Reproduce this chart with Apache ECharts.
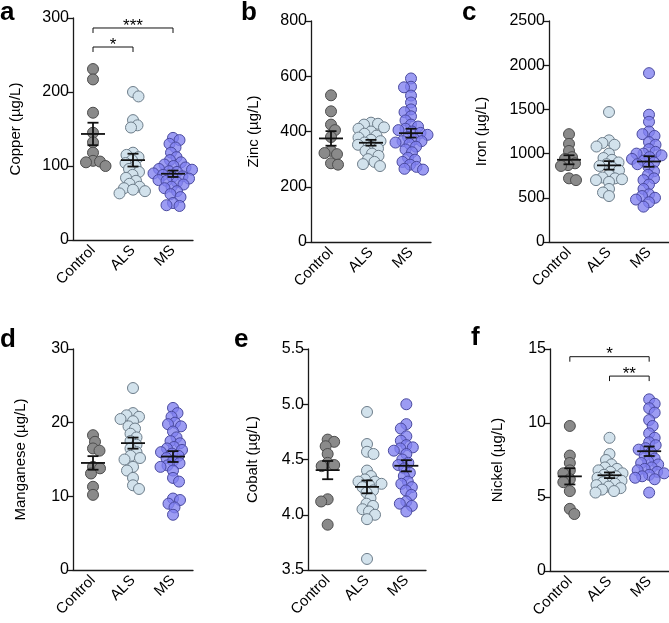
<!DOCTYPE html>
<html>
<head>
<meta charset="utf-8">
<script src="https://cdn.jsdelivr.net/npm/echarts@6/dist/echarts.min.js"></script>
<style>
  html, body { margin: 0; padding: 0; background: #fff; }
  #chart { width: 669px; height: 623px; }
</style>
</head>
<body>
<div id="chart"></div>
<script>
// groups on the x axis
const groups = ['Control', 'ALS', 'MS'];

// Copper (µg/L)
const cuControl = [231, 217, 172, 145, 132, 118, 107, 106, 105, 100];
const cuALS = [200, 194, 162, 155, 152, 118, 115, 112, 108, 104, 100, 96, 92, 88, 84, 80, 76, 72, 70, 68, 66, 63];
const cuMS = [138, 135, 130, 125, 118, 112, 108, 105, 102, 100, 98, 96, 95, 93, 92, 90, 88, 86, 85, 83, 81, 80, 78, 75, 72, 70, 66, 62, 58, 50, 47, 46];

// Zinc (µg/L)
const znControl = [531, 473, 425, 405, 380, 330, 322, 318, 285, 280];
const znALS = [432, 428, 425, 415, 410, 400, 392, 385, 378, 370, 365, 360, 352, 345, 338, 330, 320, 312, 300, 290, 282, 275];
const znMS = [592, 562, 560, 530, 505, 480, 470, 455, 440, 425, 418, 410, 405, 400, 395, 388, 380, 372, 365, 360, 365, 355, 345, 335, 325, 305, 298, 290, 280, 272, 265, 262];

// Iron (µg/L)
const feControl = [1220, 1110, 1030, 960, 940, 890, 870, 860, 720, 700];
const feALS = [1470, 1150, 1120, 1100, 1080, 1000, 950, 930, 900, 880, 860, 840, 810, 760, 730, 720, 710, 700, 680, 600, 560, 520];
const feMS = [1910, 1440, 1360, 1250, 1220, 1200, 1130, 1100, 1050, 1020, 1000, 1000, 980, 960, 940, 920, 900, 880, 850, 800, 760, 720, 700, 650, 600, 540, 520, 500, 480, 450, 400];

// Manganese (µg/L)
const mnControl = [18.3, 17.4, 16.5, 16.2, 14.0, 13.8, 13.1, 11.3, 10.2];
const mnALS = [24.7, 21.3, 21.0, 20.8, 20.5, 20.2, 19.5, 19.2, 18.5, 18.0, 17.5, 17.0, 16.5, 16.0, 15.5, 15.2, 15.0, 14.0, 13.5, 12.5, 11.5, 11.0];
const mnMS = [22.0, 21.3, 20.8, 20.0, 19.8, 19.5, 18.8, 18.0, 17.5, 17.2, 16.7, 16.5, 16.3, 16.0, 15.8, 15.5, 15.2, 14.8, 14.5, 14.2, 14.0, 13.5, 12.5, 12.0, 9.7, 9.5, 9.0, 8.5, 7.5];

// Cobalt (µg/L)
const coControl = [4.68, 4.66, 4.62, 4.55, 4.47, 4.45, 4.44, 4.14, 4.12, 3.91];
const coALS = [4.93, 4.64, 4.57, 4.55, 4.40, 4.35, 4.32, 4.30, 4.30, 4.28, 4.27, 4.25, 4.22, 4.20, 4.15, 4.10, 4.08, 4.05, 4.03, 4.00, 3.96, 3.60];
const coMS = [5.00, 4.82, 4.78, 4.71, 4.67, 4.63, 4.61, 4.60, 4.58, 4.55, 4.50, 4.47, 4.45, 4.42, 4.38, 4.35, 4.30, 4.28, 4.25, 4.22, 4.18, 4.12, 4.10, 4.08, 4.03];

// Nickel (µg/L)
const niControl = [9.8, 7.8, 7.3, 6.8, 6.6, 6.2, 6.0, 5.4, 4.2, 3.85];
const niALS = [9.0, 7.9, 7.5, 7.2, 7.0, 6.9, 6.8, 6.7, 6.6, 6.5, 6.4, 6.3, 6.2, 6.1, 6.0, 5.9, 5.8, 5.7, 5.6, 5.5, 5.4, 5.3];
const niMS = [11.6, 11.3, 11.0, 10.7, 10.2, 9.8, 9.3, 9.0, 8.7, 8.5, 8.3, 8.2, 8.0, 7.8, 7.6, 7.4, 7.3, 7.2, 7.0, 6.9, 6.8, 6.7, 6.6, 6.5, 6.4, 6.3, 6.2, 5.3];

// significance brackets: [from group, to group, y, label]
const sigCopper = [[0, 1, 260.8, '*'], [0, 2, 286.5, '***']];
const sigNickel = [[0, 2, 14.48, '*'], [1, 2, 13.17, '**']];

const FONT = '"Liberation Sans", Arial, Helvetica, sans-serif';
const fills = ['#8a8a8a', '#d2e2ec', 'rgba(128,128,240,0.78)'];
const borders = ['#4d4d4d', '#6d7d8a', '#4a4aa0'];

const panels = [
  { letter: 'a', name: 'Copper (µg/L)', sets: [cuControl, cuALS, cuMS], min: 0, max: 300, step: 100, sig: sigCopper,
    box: { left: 73, top: 18, width: 120, height: 222 }, gap: 50, lx: 0, ly: 0 },
  { letter: 'b', name: 'Zinc (µg/L)', sets: [znControl, znALS, znMS], min: 0, max: 800, step: 200,
    box: { left: 311, top: 21, width: 120, height: 221 }, gap: 50, lx: 241, ly: 0 },
  { letter: 'c', name: 'Iron (µg/L)', sets: [feControl, feALS, feMS], min: 0, max: 2500, step: 500,
    box: { left: 549, top: 21, width: 120, height: 221 }, gap: 60, lx: 462, ly: 0 },
  { letter: 'd', name: 'Manganese (µg/L)', sets: [mnControl, mnALS, mnMS], min: 0, max: 30, step: 10,
    box: { left: 73, top: 349, width: 120, height: 221 }, gap: 45, lx: 0, ly: 327 },
  { letter: 'e', name: 'Cobalt (µg/L)', sets: [coControl, coALS, coMS], min: 3.5, max: 5.5, step: 0.5, fixed: 1,
    box: { left: 308, top: 349, width: 118, height: 221 }, gap: 48, lx: 234, ly: 327 },
  { letter: 'f', name: 'Nickel (µg/L)', sets: [niControl, niALS, niMS], min: 0, max: 15, step: 5, sig: sigNickel,
    box: { left: 550, top: 349, width: 119, height: 222 }, gap: 45, lx: 471, ly: 325 }
];

function meanSem(a) {
  const m = a.reduce((s, v) => s + v, 0) / a.length;
  const sd = Math.sqrt(a.reduce((s, v) => s + (v - m) * (v - m), 0) / (a.length - 1));
  return [m, sd / Math.sqrt(a.length)];
}

// simple beeswarm: horizontal offsets in px so markers do not pile up
function swarm(vals, pxPerUnit, d) {
  const order = vals.map((v, i) => i).sort((a, b) => vals[b] - vals[a]);
  const placed = [];
  const off = new Array(vals.length);
  order.forEach((i, n) => {
    const y = vals[i] * pxPerUnit;
    let x = 0;
    search:
    for (let k = 0; k < 100; k += 0.5) {
      const cands = k === 0 ? [0] : (n % 2 ? [k, -k] : [-k, k]);
      for (const c of cands) {
        if (placed.every(p => (p.x - c) ** 2 + (p.y - y) ** 2 >= d * d)) { x = c; break search; }
      }
    }
    placed.push({ x: x, y: y });
    off[i] = x;
  });
  return off;
}

const grid = [], xAxis = [], yAxis = [], series = [], graphic = [];
const axisColor = '#1a1a1a';

panels.forEach((p, g) => {
  grid.push(Object.assign({}, p.box));
  const catW = p.box.width / 3;
  xAxis.push({
    type: 'category', gridIndex: g, data: groups, boundaryGap: true,
    axisLine: { lineStyle: { color: axisColor, width: 1.3 } },
    axisTick: { alignWithLabel: true, length: 6, lineStyle: { color: axisColor, width: 1.3 } },
    axisLabel: { rotate: 45, color: '#000', fontSize: 15, fontFamily: FONT, margin: 8, interval: 0 },
    splitLine: { show: false }
  });
  xAxis.push({ type: 'value', gridIndex: g, min: -0.5, max: 2.5, show: false });
  yAxis.push({
    type: 'value', gridIndex: g, min: p.min, max: p.max, interval: p.step,
    name: p.name, nameLocation: 'middle', nameGap: p.gap, nameRotate: 90,
    nameTextStyle: { color: '#000', fontSize: 15, fontFamily: FONT },
    axisLine: { show: true, onZero: false, lineStyle: { color: axisColor, width: 1.3 } },
    axisTick: { show: true, length: 6, lineStyle: { color: axisColor, width: 1.3 } },
    axisLabel: { color: '#000', fontSize: 16, fontFamily: FONT, margin: 4,
      formatter: v => p.fixed ? v.toFixed(p.fixed) : String(v) },
    splitLine: { show: false }
  });
  const pxPerUnit = p.box.height / (p.max - p.min);
  const stats = [];
  p.sets.forEach((vals, gi) => {
    const off = swarm(vals, pxPerUnit, 6.8);
    series.push({
      type: 'scatter', xAxisIndex: 2 * g + 1, yAxisIndex: g, symbolSize: 11, z: 2,
      itemStyle: { color: fills[gi], borderColor: borders[gi], borderWidth: 1, opacity: 1 },
      data: vals.map((v, i) => [gi + off[i] / catW, v]),
      silent: true
    });
    const ms = meanSem(vals);
    stats.push([gi, ms[0], ms[1]]);
  });
  series.push({
    type: 'custom', xAxisIndex: 2 * g + 1, yAxisIndex: g, z: 5, silent: true,
    data: stats,
    renderItem: (params, api) => {
      const x = api.value(0), m = api.value(1), s = api.value(2);
      const c = api.coord([x, m]), t = api.coord([x, m + s]), b = api.coord([x, m - s]);
      const st = { stroke: '#111', lineWidth: 1.8 };
      return { type: 'group', children: [
        { type: 'line', shape: { x1: c[0] - 12, y1: c[1], x2: c[0] + 12, y2: c[1] }, style: st },
        { type: 'line', shape: { x1: c[0], y1: t[1], x2: c[0], y2: b[1] }, style: st },
        { type: 'line', shape: { x1: c[0] - 5.5, y1: t[1], x2: c[0] + 5.5, y2: t[1] }, style: st },
        { type: 'line', shape: { x1: c[0] - 5.5, y1: b[1], x2: c[0] + 5.5, y2: b[1] }, style: st }
      ] };
    }
  });
  if (p.sig) {
    const sig = p.sig;
    series.push({
      type: 'custom', xAxisIndex: 2 * g + 1, yAxisIndex: g, z: 6, silent: true,
      data: sig.map(s => [s[0], s[1], s[2]]),
      renderItem: (params, api) => {
        const a = api.coord([api.value(0), api.value(2)]);
        const b = api.coord([api.value(1), api.value(2)]);
        const st = { stroke: '#111', lineWidth: 1 };
        return { type: 'group', children: [
          { type: 'polyline', shape: { points: [[a[0], a[1] + 5], [a[0], a[1]], [b[0], b[1]], [b[0], b[1] + 5]] }, style: Object.assign({ fill: null }, st) },
          { type: 'text', style: { text: sig[params.dataIndex][3], x: (a[0] + b[0]) / 2, y: a[1] - 2,
            align: 'center', verticalAlign: 'middle', fill: '#000', fontSize: 17, fontFamily: FONT } }
        ] };
      }
    });
  }
  graphic.push({ type: 'text', left: p.lx, top: p.ly,
    style: { text: p.letter, fontSize: 26, fontWeight: 'bold', fontFamily: FONT, fill: '#000' } });
});

const chart = echarts.init(document.getElementById('chart'));
chart.setOption({
  animation: false,
  backgroundColor: '#fff',
  grid: grid, xAxis: xAxis, yAxis: yAxis, series: series, graphic: graphic
});
</script>
</body>
</html>
